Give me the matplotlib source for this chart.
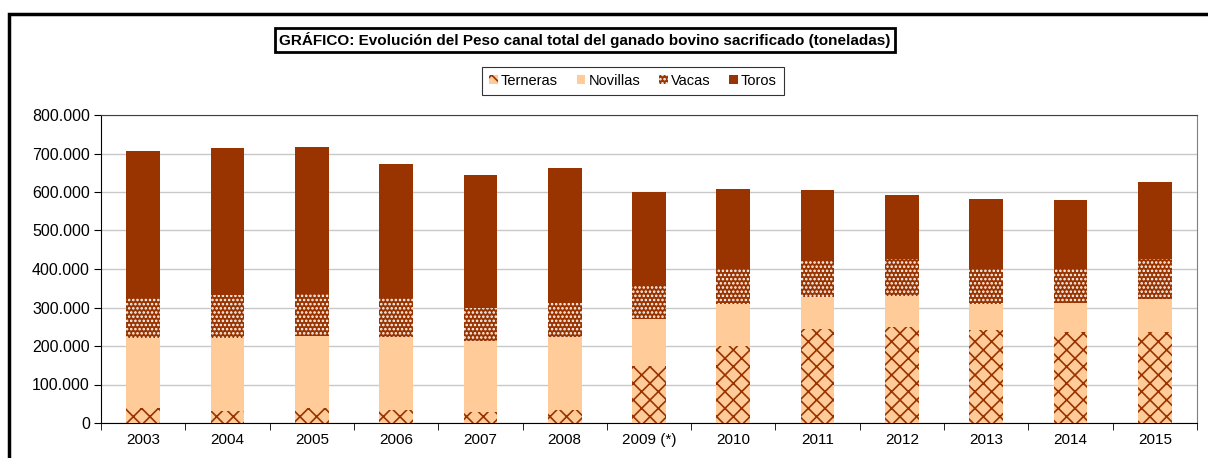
import matplotlib

matplotlib.use("Agg")
import matplotlib.pyplot as plt
from matplotlib.patches import Patch, Rectangle
from matplotlib.ticker import FuncFormatter, MultipleLocator
import numpy as np

plt.rcParams["font.family"] = ["Liberation Sans", "DejaVu Sans"]
plt.rcParams["hatch.linewidth"] = 1.2

years = ["2003", "2004", "2005", "2006", "2007", "2008", "2009 (*)",
         "2010", "2011", "2012", "2013", "2014", "2015"]
terneras = [40000, 31000, 38000, 34000, 29000, 34000, 149000,
            200000, 244000, 249000, 241000, 236000, 236000]
novillas = [182000, 191000, 187000, 190000, 184000, 189000, 122000,
            109000, 84000, 81000, 69000, 75000, 85000]
vacas = [102000, 110000, 112000, 100000, 86000, 89000, 88000,
         91000, 94000, 95000, 91000, 90000, 105000]
toros = [382000, 382000, 380000, 348000, 345000, 350000, 240000,
         207000, 182000, 167000, 181000, 178000, 201000]

DARK = "#993300"
LIGHT = "#FFCC99"

fig = plt.figure(figsize=(12.08, 4.58), dpi=100)
ax = fig.add_axes([101 / 1208, 1 - 423 / 458, 1096 / 1208, 308 / 458])

x = np.arange(len(years))
w = 0.4
t = np.array(terneras)
n = np.array(novillas)
v = np.array(vacas)
r = np.array(toros)

ax.bar(x, t, w, color=LIGHT, edgecolor=DARK, hatch="xx", lw=0, zorder=3)
ax.bar(x, n, w, bottom=t, color=LIGHT, lw=0, zorder=3)
ax.bar(x, v, w, bottom=t + n, color=DARK, edgecolor="white", hatch="....",
       lw=0, zorder=3)
ax.bar(x, r, w, bottom=t + n + v, color=DARK, lw=0, zorder=3)

ax.set_xlim(-0.5, len(years) - 0.5)
ax.set_ylim(0, 800000)
ax.yaxis.set_major_locator(MultipleLocator(100000))
ax.yaxis.set_major_formatter(
    FuncFormatter(lambda val, _: f"{val:,.0f}".replace(",", "."))
)
ax.grid(axis="y", color="#c8c8c8", lw=1, zorder=0)
ax.set_xticks(x)
ax.set_xticklabels(years)
ax.set_xticks(np.arange(len(years) + 1) - 0.5, minor=True)
ax.tick_params(axis="x", which="major", length=0, labelsize=11, pad=7)
ax.tick_params(axis="x", which="minor", length=5, color="black")
ax.tick_params(axis="y", length=5, labelsize=11.5, pad=3)

for side in ("left", "bottom"):
    ax.spines[side].set_color("black")
ax.spines["top"].set_color("#404040")
ax.spines["right"].set_color("#808080")

# marco exterior
fig.add_artist(Rectangle((9 / 1208, -0.1), 1.2, 1 - 14 / 458 + 0.1,
                         transform=fig.transFigure, fill=False,
                         lw=2.5, edgecolor="black"))

fig.text(585 / 1208, 1 - 40 / 458,
         "GRÁFICO: Evolución del Peso canal total del ganado bovino sacrificado (toneladas)",
         ha="center", va="center", fontsize=11, fontweight="bold",
         bbox=dict(boxstyle="square,pad=0.25", fc="white", ec="black", lw=2))

handles = [
    Patch(facecolor=LIGHT, edgecolor=DARK, hatch="xx", lw=0, label="Terneras"),
    Patch(facecolor=LIGHT, lw=0, label="Novillas"),
    Patch(facecolor=DARK, edgecolor="white", hatch="....", lw=0, label="Vacas"),
    Patch(facecolor=DARK, lw=0, label="Toros"),
]
leg = fig.legend(handles=handles, loc="center", ncol=4,
                 bbox_to_anchor=(633 / 1208, 1 - 81 / 458),
                 fontsize=10.5, frameon=True, fancybox=False,
                 handlelength=0.6, handleheight=0.6, handletextpad=0.2,
                 columnspacing=1.3, borderpad=0.5)
leg.get_frame().set_edgecolor("black")
leg.get_frame().set_linewidth(0.8)

fig.savefig("out.png", dpi=100)
